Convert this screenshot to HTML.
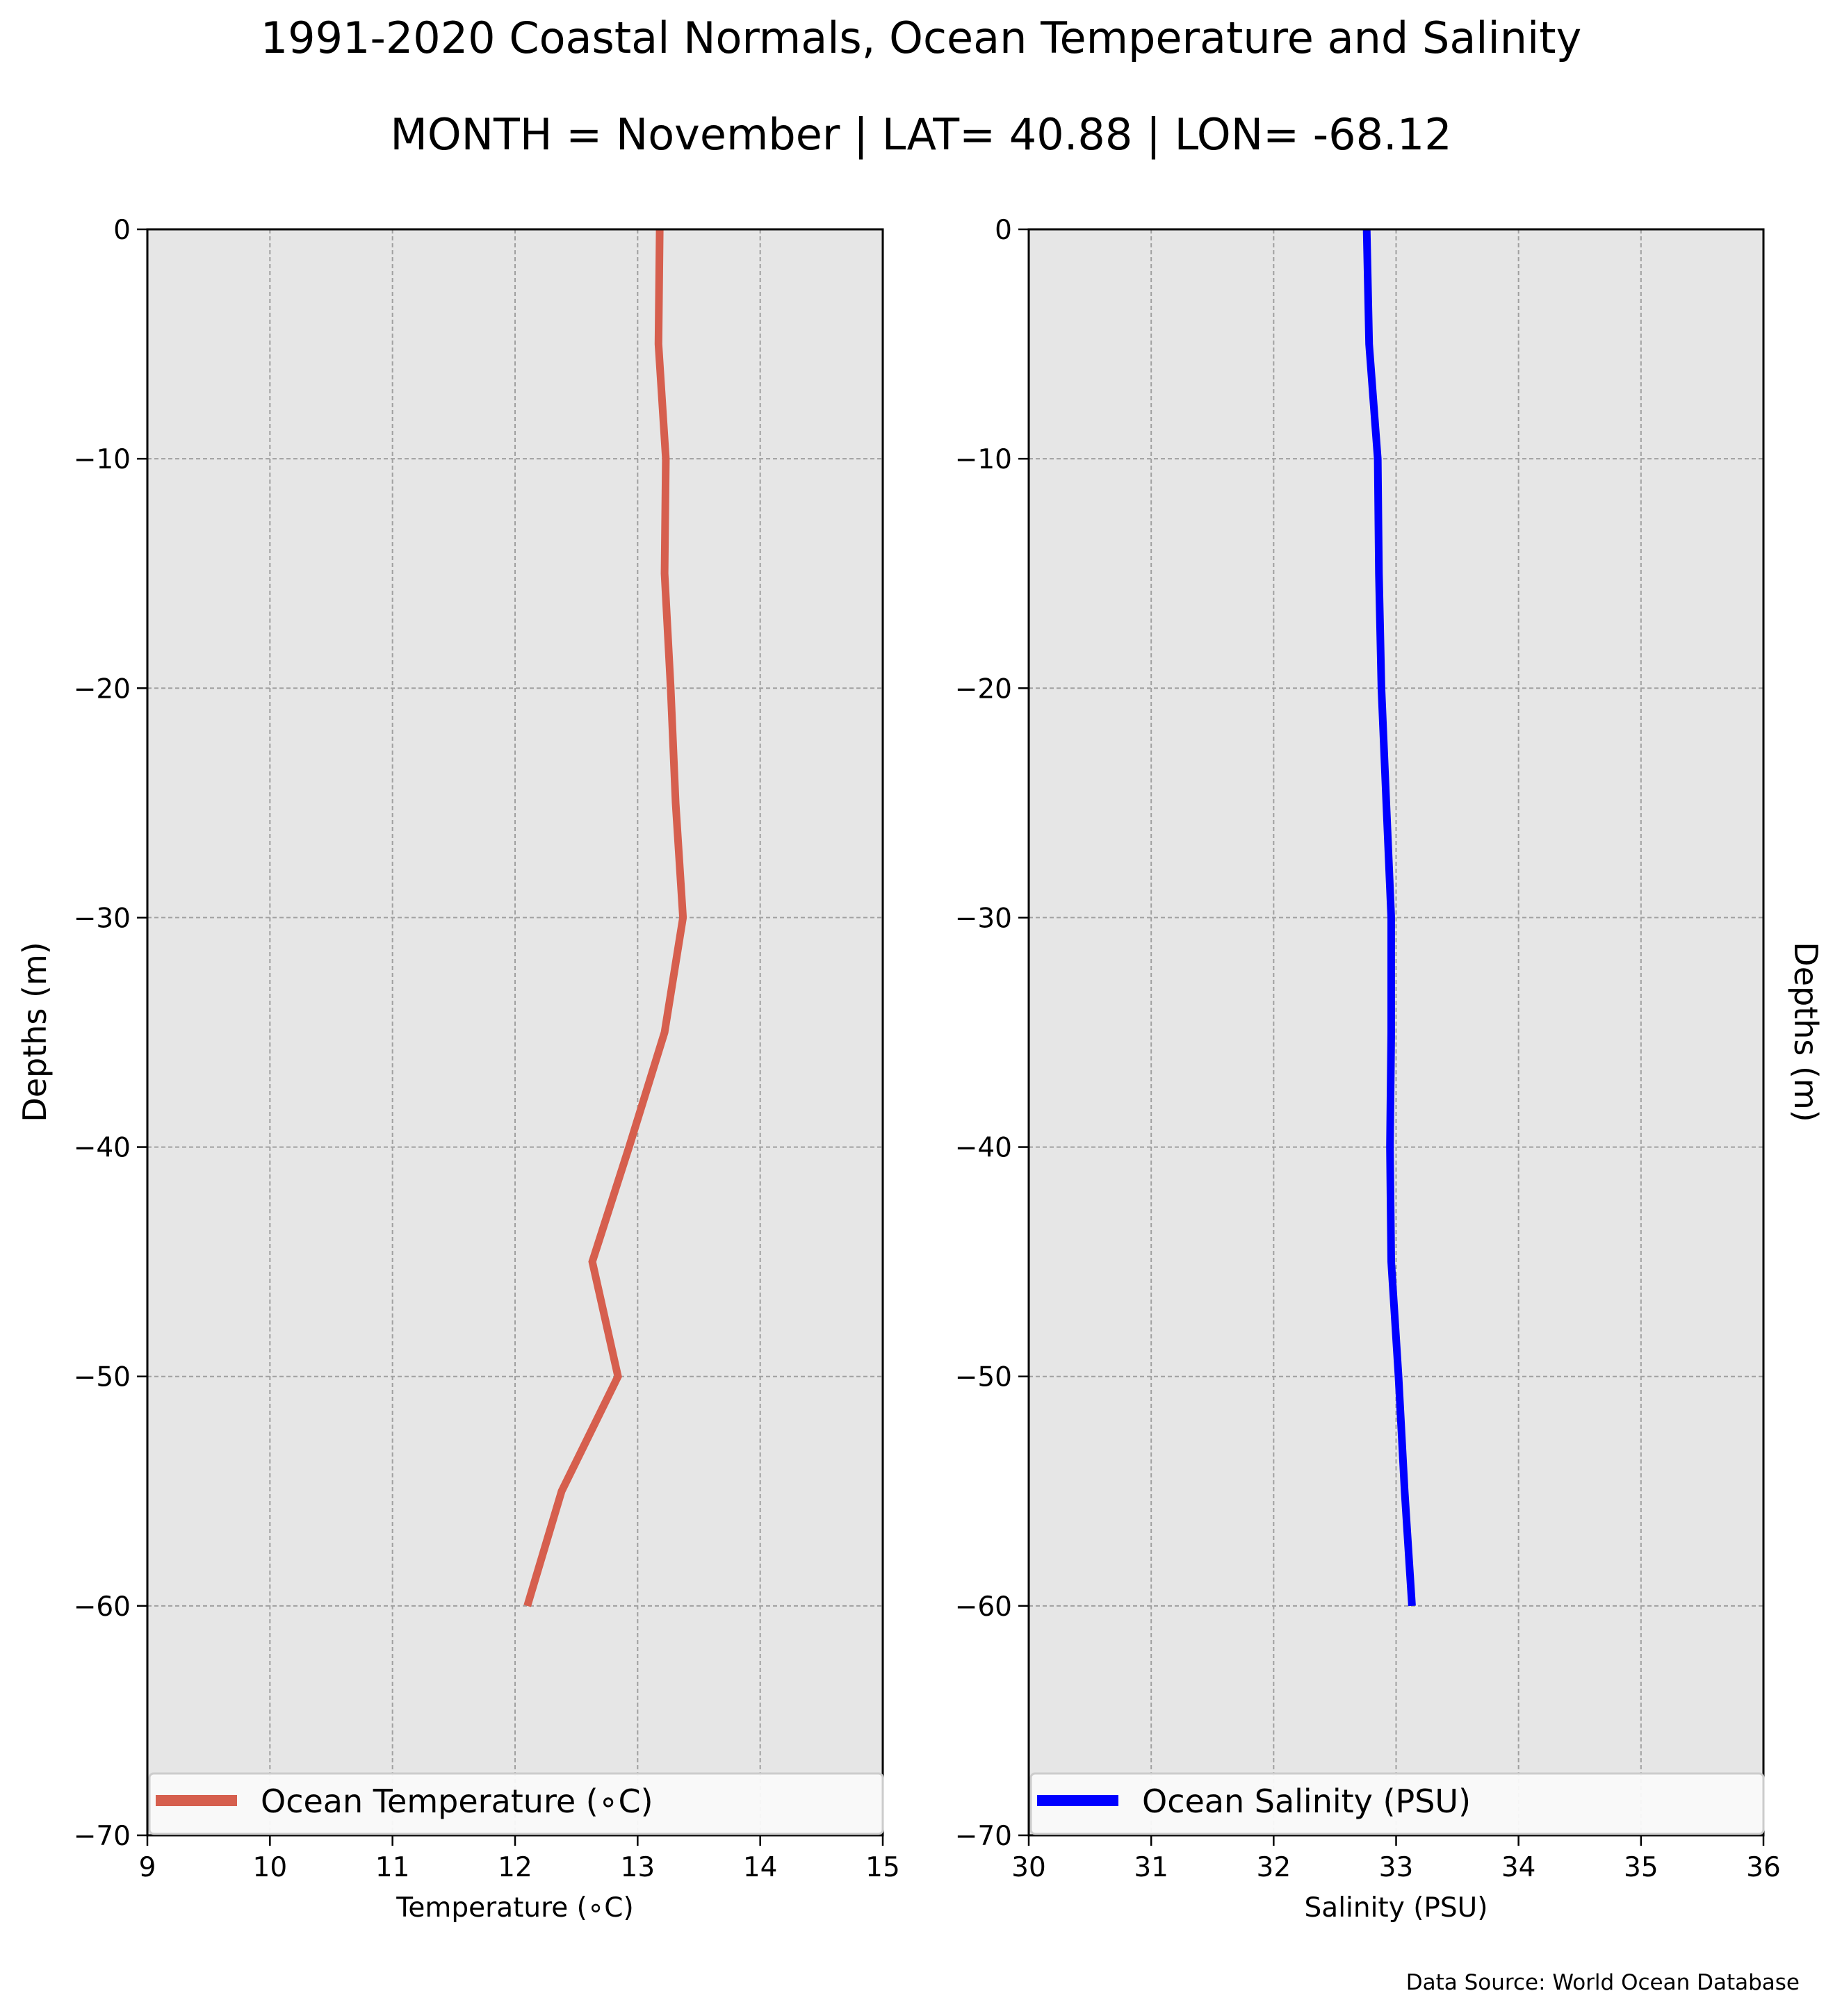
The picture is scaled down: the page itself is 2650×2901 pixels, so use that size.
<!DOCTYPE html>
<html><head><meta charset="utf-8"><style>
html,body{margin:0;padding:0;background:#fff;}
svg{display:block;font-family:"DejaVu Sans","Liberation Sans",sans-serif;}
</style></head><body>
<svg id="chart" width="2650" height="2901" viewBox="0 0 2650 2901" xmlns="http://www.w3.org/2000/svg">
<text x="1325" y="76" font-size="62" text-anchor="middle">1991-2020 Coastal Normals, Ocean Temperature and Salinity</text>
<text x="1325" y="215" font-size="62" text-anchor="middle">MONTH = November | LAT= 40.88 | LON= -68.12</text>
<text transform="translate(66,1485) rotate(-90)" font-size="46" text-anchor="middle">Depths (m)</text>
<text transform="translate(2582,1485) rotate(90)" font-size="46" text-anchor="middle">Depths (m)</text>
<text x="2589" y="2863" font-size="31" text-anchor="end">Data Source: World Ocean Database</text>
<g id="g1"></g>
<g id="g2"></g>
</svg>
<script>
const depths = [0, -5, -10, -15, -20, -25, -30, -35, -40, -45, -50, -55, -60];
const temperature = [13.18, 13.17, 13.23, 13.22, 13.27, 13.31, 13.37, 13.22, 12.93, 12.63, 12.84, 12.38, 12.10];
const salinity = [32.76, 32.78, 32.85, 32.86, 32.88, 32.92, 32.96, 32.96, 32.95, 32.96, 33.02, 33.07, 33.13];
const depthTicks = [0, -10, -20, -30, -40, -50, -60, -70];
const tempTicks = [9, 10, 11, 12, 13, 14, 15];
const salTicks = [30, 31, 32, 33, 34, 35, 36];

const NS = "http://www.w3.org/2000/svg";
const TOP = 330, BOT = 2641;
function yScale(d){ return TOP + (0 - d) / 70 * (BOT - TOP); }
function mk(tag, attrs, parent){
  const e = document.createElementNS(NS, tag);
  for (const k in attrs) e.setAttribute(k, attrs[k]);
  parent.appendChild(e); return e;
}
function panel(gid, L, R, xmin, xmax, xticks, values, color, label, xlabel, key){
  const g = document.getElementById(gid);
  
  
  const xs = v => L + (v - xmin) / (xmax - xmin) * (R - L);
  const bg = mk('rect', {x:L, y:TOP, width:R-L, height:BOT-TOP, fill:'#e6e6e6'}, g);
  
  
  xticks.forEach(t => {
    const x = xs(t);
    const gl = mk('line', {x1:x, x2:x, y1:TOP, y2:BOT, stroke:'#a0a0a0', 'stroke-width':2, 'stroke-dasharray':'6,4'}, g);
    
    
    mk('line', {x1:x, x2:x, y1:BOT, y2:BOT+15, stroke:'#000', 'stroke-width':2.5}, g);
    const tl = mk('text', {x:x, y:2700, 'font-size':39, 'text-anchor':'middle'}, g);
    tl.textContent = t;
    
    
  });
  depthTicks.forEach(d => {
    const y = yScale(d);
    const gl = mk('line', {x1:L, x2:R, y1:y, y2:y, stroke:'#a0a0a0', 'stroke-width':2, 'stroke-dasharray':'6,4'}, g);
    
    
    mk('line', {x1:L-15, x2:L, y1:y, y2:y, stroke:'#000', 'stroke-width':2.5}, g);
    const tl = mk('text', {x:L-24, y:y+14, 'font-size':39, 'text-anchor':'end'}, g);
    tl.textContent = d < 0 ? '\u2212' + Math.abs(d) : String(d);
    
    
  });
  const pts = values.map((v, i) => xs(v).toFixed(1) + ',' + yScale(depths[i]).toFixed(1)).join(' ');
  const line = mk('polyline', {points:pts, fill:'none', stroke:color, 'stroke-width':11}, g);
  
  
  const fr = mk('rect', {x:L, y:TOP, width:R-L, height:BOT-TOP, fill:'none', stroke:'#000', 'stroke-width':3}, g);
  
  
  // legend
  const lg = mk('g', {}, g);
  
  
  mk('rect', {x:L+3, y:2552, width:R-L-3, height:BOT-2552-2, rx:6, fill:'#fafafa', stroke:'#cccccc', 'stroke-width':3, 'fill-opacity':0.95}, lg);
  mk('line', {x1:L+12, x2:L+129, y1:2591, y2:2591, stroke:color, 'stroke-width':16}, lg);
  const lt = mk('text', {x:L+163, y:2608, 'font-size':46}, lg);
  lt.textContent = label;
  
  
  const xl = mk('text', {x:(L+R)/2, y:2758, 'font-size':39, 'text-anchor':'middle'}, g);
  xl.textContent = xlabel;
  
  
}
panel('g1', 212, 1270, 9, 15, tempTicks, temperature, '#d65f4e', 'Ocean Temperature (\u2218C)', 'Temperature (\u2218C)', 'temperature');
panel('g2', 1480, 2537, 30, 36, salTicks, salinity, '#0000ff', 'Ocean Salinity (PSU)', 'Salinity (PSU)', 'salinity');
</script>
</body></html>
